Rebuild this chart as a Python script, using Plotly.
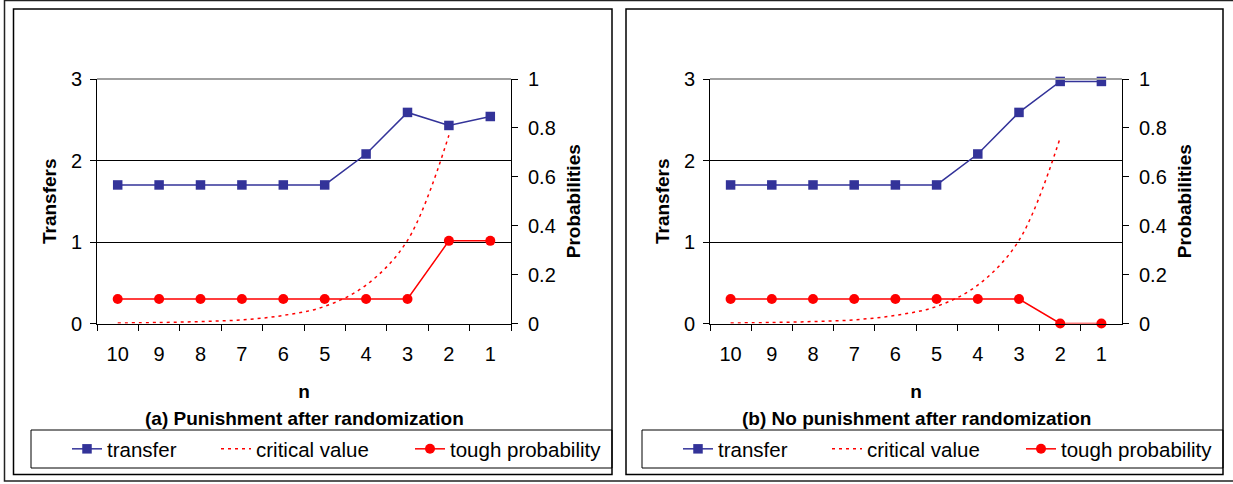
import plotly.graph_objects as go

W, H = 1233, 484

# ---------------- data ----------------
n_labels = ["10", "9", "8", "7", "6", "5", "4", "3", "2", "1"]

transfer_a = [1.7, 1.7, 1.7, 1.7, 1.7, 1.7, 2.08, 2.59, 2.43, 2.54]
critical_a = [0.002, 0.004, 0.008, 0.015, 0.033, 0.07, 0.157, 0.34, 0.77, None]
tough_a = [0.1, 0.1, 0.1, 0.1, 0.1, 0.1, 0.1, 0.1, 0.338, 0.338]

transfer_b = [1.7, 1.7, 1.7, 1.7, 1.7, 1.7, 2.08, 2.59, 2.97, 2.97]
critical_b = [0.002, 0.004, 0.008, 0.015, 0.033, 0.07, 0.157, 0.34, 0.76, None]
tough_b = [0.1, 0.1, 0.1, 0.1, 0.1, 0.1, 0.1, 0.1, 0.0, 0.0]

panel_titles = ["(a) Punishment after randomization", "(b) No punishment after randomization"]
series_names = ["transfer", "critical value", "tough probability"]

NAVY = "#333399"
RED = "#FF0000"
FONT = "Arial, Liberation Sans, sans-serif"


def px(x):
    return x / W


def py(y):
    return 1 - y / H


fig = go.Figure()

panels = [
    dict(data=(transfer_a, critical_a, tough_a), xa="x", ya="y", ya2="y2", legend="legend"),
    dict(data=(transfer_b, critical_b, tough_b), xa="x2", ya="y3", ya2="y4", legend="legend2"),
]

for p in panels:
    tr, cr, tg = p["data"]
    fig.add_trace(go.Scatter(
        x=n_labels, y=tr, name=series_names[0], mode="lines+markers",
        line=dict(color=NAVY, width=1.5),
        marker=dict(symbol="square", size=9.5, color=NAVY),
        xaxis=p["xa"], yaxis=p["ya"], legend=p["legend"], legendwidth=104,
        cliponaxis=False,
    ))
    fig.add_trace(go.Scatter(
        x=n_labels, y=cr, name=series_names[1], mode="lines",
        line=dict(color=RED, width=1.5, dash="3px,4px", shape="spline", smoothing=1.0),
        xaxis=p["xa"], yaxis=p["ya2"], legend=p["legend"], legendwidth=149,
        cliponaxis=False,
    ))
    fig.add_trace(go.Scatter(
        x=n_labels, y=tg, name=series_names[2], mode="lines+markers",
        line=dict(color=RED, width=1.5),
        marker=dict(symbol="circle", size=10, color=RED),
        xaxis=p["xa"], yaxis=p["ya2"], legend=p["legend"], legendwidth=155,
        cliponaxis=False,
    ))

ydom = [py(323.5), py(79)]

tickfont = dict(family=FONT, size=20, color="black")
titlefont = dict(family=FONT, size=19, color="black")

def xaxis_cfg(x0, x1, anchor):
    return dict(
        domain=[px(x0), px(x1)], anchor=anchor, type="category",
        range=[-0.5, 9.5], tickson="boundaries", ticks="outside", ticklen=6,
        tickcolor="black", showline=True, linecolor="black", linewidth=1,
        showgrid=False, zeroline=False, tickfont=tickfont, ticklabelstandoff=12,
        title=dict(text="<b>n</b>", font=titlefont, standoff=21),
        automargin=False, fixedrange=True,
    )

def yaxis_cfg(anchor):
    return dict(
        domain=ydom, anchor=anchor, range=[0, 3], tickvals=[0, 1, 2, 3],
        ticks="outside", ticklen=6, tickcolor="black",
        showline=True, linecolor="black", linewidth=1,
        showgrid=True, gridcolor="black", gridwidth=1, zeroline=False,
        tickfont=tickfont, ticklabelstandoff=4,
        title=dict(text="<b>Transfers</b>", font=titlefont, standoff=9),
        automargin=False,
    )

def yaxis2_cfg(anchor, overlay):
    return dict(
        domain=ydom, anchor=anchor, overlaying=overlay, side="right",
        range=[0, 1], tickvals=[0, 0.2, 0.4, 0.6, 0.8, 1],
        ticktext=["0", "0.2", "0.4", "0.6", "0.8", "1"],
        ticks="outside", ticklen=6, tickcolor="black",
        showline=True, linecolor="black", linewidth=1,
        showgrid=False, zeroline=False,
        tickfont=tickfont, ticklabelstandoff=6,
        title=dict(text="<b>Probabilities</b>", font=titlefont, standoff=11),
        automargin=False,
    )

legend_common = dict(
    orientation="h", yanchor="middle", y=py(449), xanchor="left",
    font=dict(family=FONT, size=20.5, color="black"),
    bgcolor="rgba(0,0,0,0)", borderwidth=0, itemclick=False, itemdoubleclick=False,
)

shapes = []
# outer border
shapes.append(dict(type="rect", xref="paper", yref="paper", x0=px(4.5), x1=px(1245), y0=py(481), y1=py(0.5),
                   line=dict(color="#222222", width=1.5)))
# panel frames
for fx0, fx1 in [(13.5, 612), (626, 1223)]:
    shapes.append(dict(type="rect", xref="paper", yref="paper", x0=px(fx0), x1=px(fx1), y0=py(474.5), y1=py(9),
                       line=dict(color="black", width=1.5)))
# legend boxes
for lx0, lx1 in [(31, 612), (642, 1223)]:
    shapes.append(dict(type="rect", xref="paper", yref="paper", x0=px(lx0), x1=px(lx1), y0=py(468), y1=py(430),
                       line=dict(color="black", width=1)))
# gray top edge of each plot area
for xr in ["x", "x2"]:
    shapes.append(dict(type="line", xref=f"{xr} domain", yref="paper", x0=0, x1=1, y0=ydom[1], y1=ydom[1],
                       line=dict(color="#a0a0a0", width=2), layer="above"))

annotations = []
for title, (x0, x1) in zip(panel_titles, [(97, 511), (710, 1122)]):
    annotations.append(dict(text=f"<b>{title}</b>", x=px((x0 + x1) / 2), y=py(418), xref="paper", yref="paper",
                            xanchor="center", yanchor="middle", showarrow=False,
                            font=dict(family=FONT, size=19, color="black")))

fig.update_layout(
    width=W, height=H, margin=dict(l=0, r=0, t=0, b=0),
    paper_bgcolor="white", plot_bgcolor="white",
    xaxis=xaxis_cfg(97, 511, "y"),
    yaxis=yaxis_cfg("x"),
    yaxis2=yaxis2_cfg("x", "y"),
    xaxis2=xaxis_cfg(710, 1122, "y3"),
    yaxis3=yaxis_cfg("x2"),
    yaxis4=yaxis2_cfg("x2", "y3"),
    legend=dict(legend_common, x=px(67)),
    legend2=dict(legend_common, x=px(67 + 611)),
    shapes=shapes, annotations=annotations, showlegend=True,
)

fig.write_html("out.html", config={"displayModeBar": False},
               post_script="document.body.style.margin='0px';")
